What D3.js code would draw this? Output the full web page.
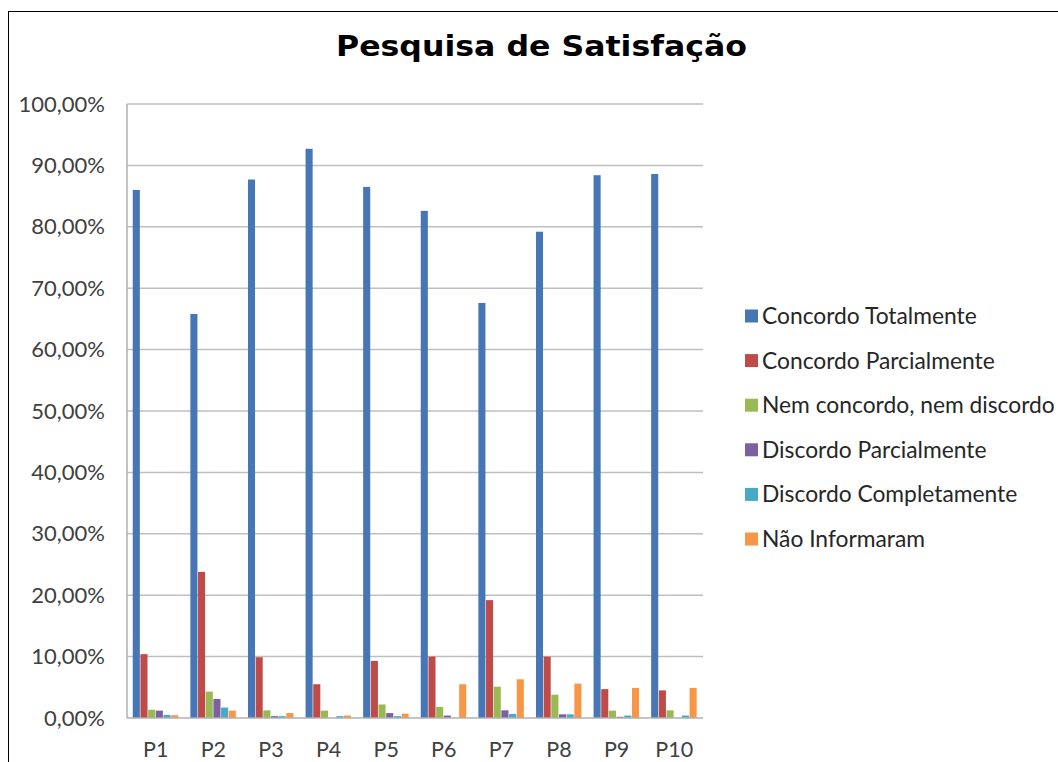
<!DOCTYPE html>
<html><head><meta charset="utf-8">
<script src="https://cdn.jsdelivr.net/npm/d3@7"></script>
<style>body{margin:0;background:#fff;} svg{display:block;}</style>
</head><body>
<svg id="c" width="1058" height="762"></svg>
<script>
const categories = ["P1","P2","P3","P4","P5","P6","P7","P8","P9","P10"];
const seriesNames = ["Concordo Totalmente","Concordo Parcialmente","Nem concordo, nem discordo","Discordo Parcialmente","Discordo Completamente","Não Informaram"];
const concordoTotalmente    = [86.0, 65.8, 87.7, 92.7, 86.5, 82.6, 67.6, 79.2, 88.4, 88.6];
const concordoParcialmente  = [10.4, 23.8, 9.9, 5.5, 9.3, 10.0, 19.2, 10.0, 4.7, 4.5];
const nemConcordoNemDiscordo= [1.35, 4.3, 1.25, 1.2, 2.2, 1.8, 5.1, 3.8, 1.2, 1.25];
const discordoParcialmente  = [1.2, 3.1, 0.3, 0.0, 0.8, 0.4, 1.25, 0.6, 0.2, 0.0];
const discordoCompletamente = [0.5, 1.7, 0.3, 0.3, 0.3, 0.0, 0.65, 0.6, 0.4, 0.4];
const naoInformaram         = [0.45, 1.2, 0.8, 0.4, 0.7, 5.5, 6.3, 5.6, 4.9, 4.9];
const yTicks = [0,10,20,30,40,50,60,70,80,90,100];
const colors = ["#4676b5","#be4b48","#98b954","#7d60a0","#46aac5","#f79646"];

const series = [concordoTotalmente, concordoParcialmente, nemConcordoNemDiscordo, discordoParcialmente, discordoCompletamente, naoInformaram];

(function(){
const svg = d3.select("#c");
const font = "Lato, 'Open Sans', sans-serif";

svg.append("rect").attr("x",8.5).attr("y",11.5).attr("width",1070).attr("height",800)
  .attr("fill","none").attr("stroke","#000").attr("stroke-width",1);

svg.append("text").attr("x",336).attr("y",56)
  .attr("font-family","'DejaVu Sans', sans-serif").attr("font-weight","bold").attr("font-size",28)
  .attr("textLength",411).attr("lengthAdjust","spacingAndGlyphs")
  .attr("fill","#000").text("Pesquisa de Satisfação");

const pL=127, pR=703, pT=104, pB=718;
const x = d3.scaleBand().domain(categories).range([pL,pR]).paddingInner(0).paddingOuter(0);
const y = d3.scaleLinear().domain([0,100]).range([pB,pT]);
const gw = x.bandwidth();
const bw = gw/7.5;
const xs = d3.scaleBand().domain(d3.range(series.length)).range([0.75*bw, 0.75*bw+6*bw]);

svg.append("g").selectAll("line").data(yTicks.filter(d=>d>0)).join("line")
  .attr("x1",pL).attr("x2",pR).attr("y1",d=>y(d)).attr("y2",d=>y(d))
  .attr("stroke","#bfbfbf").attr("stroke-width",1.5);

const g = svg.append("g");
series.forEach((vals,si)=>{
  g.append("g").selectAll("rect").data(vals).join("rect")
    .attr("x",(d,i)=>x(categories[i])+xs(si))
    .attr("width",bw-0.6)
    .attr("y",d=>y(d))
    .attr("height",d=>pB-y(d))
    .attr("fill",colors[si]);
});

svg.append("line").attr("x1",pL).attr("x2",pL).attr("y1",pT).attr("y2",pB).attr("stroke","#b0b0b0").attr("stroke-width",1.5);
svg.append("line").attr("x1",pL).attr("x2",pR).attr("y1",pB).attr("y2",pB).attr("stroke","#b0b0b0").attr("stroke-width",1.5);

const yAxis = d3.axisLeft(y).tickValues(yTicks).tickSize(0).tickPadding(22)
  .tickFormat(d=>d.toFixed(2).replace(".",",")+"%");
const ya = svg.append("g").attr("transform",`translate(${pL},0)`).call(yAxis);
ya.select(".domain").remove();
ya.selectAll("text").attr("font-family",font).attr("font-size",22).attr("fill","#404040");

const xAxis = d3.axisBottom(x).tickSize(0).tickPadding(24);
const xa = svg.append("g").attr("transform",`translate(0,${pB})`).call(xAxis);
xa.select(".domain").remove();
xa.selectAll("text").attr("font-family",font).attr("font-size",21.5).attr("fill","#404040");

const lg = svg.append("g");
seriesNames.forEach((n,i)=>{
  const cy = 316 + i*44.6;
  lg.append("rect").attr("x",745).attr("y",cy-6.5).attr("width",13).attr("height",13).attr("fill",colors[i]);
  lg.append("text").attr("x",762).attr("y",cy).attr("dy","0.35em")
    .attr("font-family",font).attr("font-size",22.8).attr("fill","#262626").text(n);
});
})();
</script>
</body></html>
